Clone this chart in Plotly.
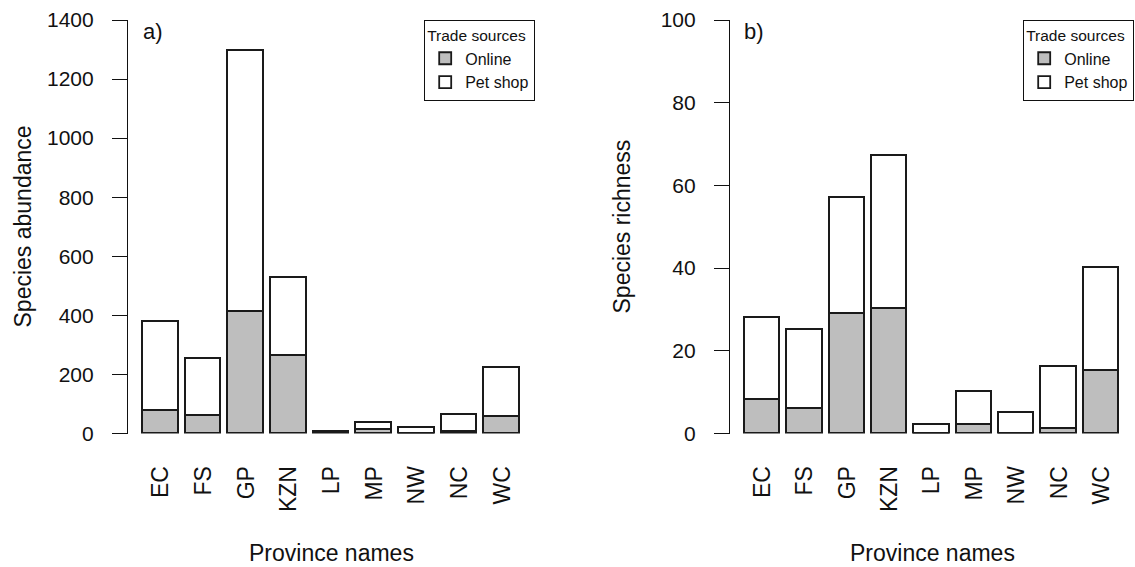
import plotly.graph_objects as go

provinces = ["EC", "FS", "GP", "KZN", "LP", "MP", "NW", "NC", "WC"]

# Panel a: species abundance
abund_online = [75, 60, 410, 262, 3, 12, 0, 4, 55]
abund_petshop = [301, 193, 885, 263, 3, 25, 20, 58, 167]

# Panel b: species richness
rich_online = [8, 6, 29, 30, 0, 2, 0, 1, 15]
rich_petshop = [20, 19, 28, 37, 2, 8, 5, 15, 25]

abund_ticks = [0, 200, 400, 600, 800, 1000, 1200, 1400]
rich_ticks = [0, 20, 40, 60, 80, 100]

W, H = 1135, 567
FONT = "Liberation Sans, Arial, sans-serif"
GREY = "#bebebe"
EDGE = "#1a1a1a"

# R barplot positions: width 1, space 0.2
xpos = [0.7 + 1.2 * i for i in range(len(provinces))]
xrange = [-0.224, 11.224]

fig = go.Figure()

def add_panel(online, pet, xa, ya, leg, show):
    fig.add_trace(go.Bar(x=xpos, y=online, width=1, name="Online",
                         marker=dict(color=GREY, line=dict(color=EDGE, width=1.8)),
                         xaxis=xa, yaxis=ya, legend=leg, showlegend=show))
    fig.add_trace(go.Bar(x=xpos, y=pet, width=1, name="Pet shop",
                         marker=dict(color="white", line=dict(color=EDGE, width=1.8)),
                         xaxis=xa, yaxis=ya, legend=leg, showlegend=show))

add_panel(abund_online, abund_petshop, "x", "y", "legend", True)
add_panel(rich_online, rich_petshop, "x2", "y2", "legend2", True)

ydom = [(H - 433.5) / H, (H - 20) / H]
xdom1 = [128 / W, 535 / W]
xdom2 = [730 / W, 1134 / W]

xaxis_common = dict(range=xrange, tickmode="array", tickvals=xpos, ticktext=provinces,
                    tickangle=-90, showline=False, showgrid=False, zeroline=False,
                    ticks="", ticklabelstandoff=27,
                    tickfont=dict(family=FONT, size=23, color="#111"), fixedrange=True)
yaxis_common = dict(showline=True, linecolor="#111", linewidth=1.2, showgrid=False,
                    zeroline=False, ticks="outside", ticklen=15, tickwidth=1.2,
                    tickcolor="#111", ticklabelstandoff=14,
                    tickfont=dict(family=FONT, size=21, color="#111"))

legend_common = dict(xanchor="right", y=(H - 20) / H, yanchor="top",
                     bgcolor="white", bordercolor="#111", borderwidth=1.2,
                     traceorder="normal",
                     title=dict(text="Trade sources", font=dict(family=FONT, size=15.5, color="#111")),
                     font=dict(family=FONT, size=16, color="#111"), itemwidth=30,
                     tracegroupgap=0)

fig.update_layout(
    width=W, height=H,
    margin=dict(l=0, r=0, t=0, b=0, autoexpand=False),
    paper_bgcolor="white", plot_bgcolor="white",
    barmode="stack", bargap=0,
    font=dict(family=FONT, color="#111"),
    xaxis=dict(domain=xdom1, anchor="y", **xaxis_common),
    xaxis2=dict(domain=xdom2, anchor="y2", **xaxis_common),
    yaxis=dict(domain=ydom, anchor="x", range=[0, 1400], tickvals=abund_ticks, **yaxis_common),
    yaxis2=dict(domain=ydom, anchor="x2", range=[0, 100], tickvals=rich_ticks, **yaxis_common),
    legend=dict(x=535 / W, **legend_common),
    legend2=dict(x=1134 / W, **legend_common),
)

tf = dict(size=23, family=FONT, color="#111")
ann = [
    dict(text="Species abundance", x=23 / W, y=(H - 226.5) / H, xanchor="center", yanchor="middle",
         textangle=-90, showarrow=False, font=tf),
    dict(text="Species richness", x=622 / W, y=(H - 226.5) / H, xanchor="center", yanchor="middle",
         textangle=-90, showarrow=False, font=tf),
    dict(text="Province names", x=331.5 / W, y=(H - 553) / H, xanchor="center", yanchor="middle",
         showarrow=False, font=tf),
    dict(text="Province names", x=932 / W, y=(H - 553) / H, xanchor="center", yanchor="middle",
         showarrow=False, font=tf),
    dict(text="a)", x=141 / W, y=(H - 31) / H, xanchor="left", yanchor="middle",
         showarrow=False, font=dict(size=22, family=FONT, color="#111")),
    dict(text="b)", x=742 / W, y=(H - 31) / H, xanchor="left", yanchor="middle",
         showarrow=False, font=dict(size=22, family=FONT, color="#111")),
]
for a in ann:
    a.update(xref="paper", yref="paper")
fig.update_layout(annotations=ann)

fig.write_html("out.html", config={"displayModeBar": False},
               post_script="document.body.style.margin='0';")
